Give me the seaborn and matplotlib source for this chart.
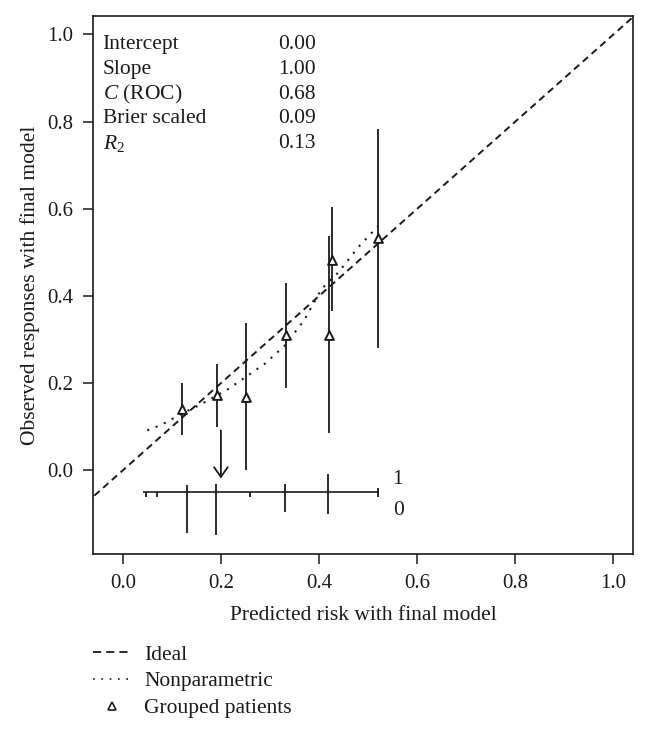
import numpy as np
import pandas as pd
import matplotlib
matplotlib.use("Agg")
import matplotlib.pyplot as plt
from matplotlib.lines import Line2D
import seaborn as sns

# grouped patients (predicted vs observed, with CI)
pred = [0.120, 0.192, 0.251, 0.332, 0.420, 0.427, 0.520]
obs = [0.141, 0.172, 0.168, 0.311, 0.311, 0.483, 0.533]
ci_low = [0.082, 0.099, 0.000, 0.190, 0.085, 0.365, 0.280]
ci_high = [0.201, 0.243, 0.337, 0.430, 0.538, 0.603, 0.782]

# nonparametric (loess) calibration curve
np_x = [0.05, 0.08, 0.12, 0.16, 0.21, 0.24, 0.29, 0.33, 0.37, 0.405, 0.44, 0.48, 0.52]
np_y = [0.092, 0.105, 0.130, 0.152, 0.183, 0.206, 0.245, 0.286, 0.345, 0.416, 0.455, 0.512, 0.56]

# spike histogram of predictions (1s up, 0s down)
hist_x = [0.048, 0.070, 0.131, 0.190, 0.260, 0.330, 0.419, 0.520]
hist_up = [0.0, 0.0, 0.016, 0.019, 0.0, 0.019, 0.042, 0.009]
hist_down = [0.012, 0.012, 0.094, 0.099, 0.012, 0.045, 0.051, 0.010]

stat_names = ["Intercept", "Slope", "$C$ (ROC)", "Brier scaled", "$R_2$"]
stat_vals = ["0.00", "1.00", "0.68", "0.09", "0.13"]

sns.set_style("ticks")
plt.rcParams['font.family'] = ['Liberation Serif', 'DejaVu Serif']
plt.rcParams['mathtext.fontset'] = 'custom'
plt.rcParams['mathtext.it'] = 'Liberation Serif:italic'
plt.rcParams['mathtext.rm'] = 'Liberation Serif'

ink = "#1a1a1a"
fs = 15.5
fig = plt.figure(figsize=(6.48, 7.31), dpi=100)
ax = fig.add_axes([0.144, 0.242, 0.833, 0.736])

# ideal line
ax.plot([-0.2, 1.2], [-0.2, 1.2], color=ink, lw=1.4, ls=(0, (3.6, 2.4)))

# nonparametric curve
curve = pd.DataFrame({"x": np_x, "y": np_y})
sns.lineplot(data=curve, x="x", y="y", ax=ax, color=ink, lw=1.5,
             linestyle=(0, (1, 3.3)), sort=False)

# error bars and grouped points
ax.vlines(pred, ci_low, ci_high, color=ink, lw=1.3)
pts = pd.DataFrame({"pred": pred, "obs": obs})
sns.scatterplot(data=pts, x="pred", y="obs", ax=ax, marker="^", s=40,
                facecolor="white", edgecolor=ink, linewidth=1.4, zorder=5)

# spike histogram
base = -0.05
ax.hlines(base, 0.041, 0.522, color=ink, lw=1.2)
hx = np.array(hist_x)
ax.vlines(hx, base - np.array(hist_down), base + np.array(hist_up), color=ink, lw=1.3)
ax.text(0.550, -0.021, "1", fontsize=fs, va="center", ha="left", color=ink)
ax.text(0.550, -0.091, "0", fontsize=fs, va="center", ha="left", color=ink)

# arrow
ax.annotate("", xy=(0.2, -0.025), xytext=(0.2, 0.098),
            arrowprops=dict(arrowstyle="->,head_width=0.35,head_length=0.5",
                            mutation_scale=14, color=ink, lw=1.3))

# stats block
for i, (n, v) in enumerate(zip(stat_names, stat_vals)):
    yy = 0.976 - i * 0.0565
    ax.text(-0.041, yy, n, fontsize=fs, va="center", ha="left", color=ink)
    ax.text(0.316, yy, v, fontsize=fs, va="center", ha="left", color=ink)

ax.set_xlim(-0.06, 1.04)
ax.set_ylim(-0.192, 1.042)
ax.set_xticks([0.0, 0.2, 0.4, 0.6, 0.8, 1.0])
ax.set_yticks([0.0, 0.2, 0.4, 0.6, 0.8, 1.0])
ax.set_xticklabels(["0.0", "0.2", "0.4", "0.6", "0.8", "1.0"])
ax.set_yticklabels(["0.0", "0.2", "0.4", "0.6", "0.8", "1.0"])
ax.tick_params(labelsize=15, length=7, width=1.1, color=ink, labelcolor=ink,
               direction="out", pad=7.5)
for s in ax.spines.values():
    s.set_linewidth(1.2)
    s.set_color(ink)
ax.set_xlabel("Predicted risk with final model", fontsize=fs, color=ink, labelpad=9)
ax.set_ylabel("Observed responses with final model", fontsize=fs, color=ink, labelpad=5)

handles = [
    Line2D([], [], color=ink, lw=1.3, ls=(0, (4.5, 2.8))),
    Line2D([], [], color=ink, lw=1.2, ls=(0, (1, 4))),
    Line2D([], [], color=ink, lw=0, marker="^", markersize=6,
           markerfacecolor="white", markeredgecolor=ink, markeredgewidth=1.2),
]
fig.legend(handles, ["Ideal", "Nonparametric", "Grouped patients"],
           loc="upper left", bbox_to_anchor=(0.127, 0.133), frameon=False,
           fontsize=fs, handlelength=1.77, handletextpad=0.6, labelspacing=0.31,
           borderpad=0, labelcolor=ink)

fig.savefig("out.png", dpi=100)
